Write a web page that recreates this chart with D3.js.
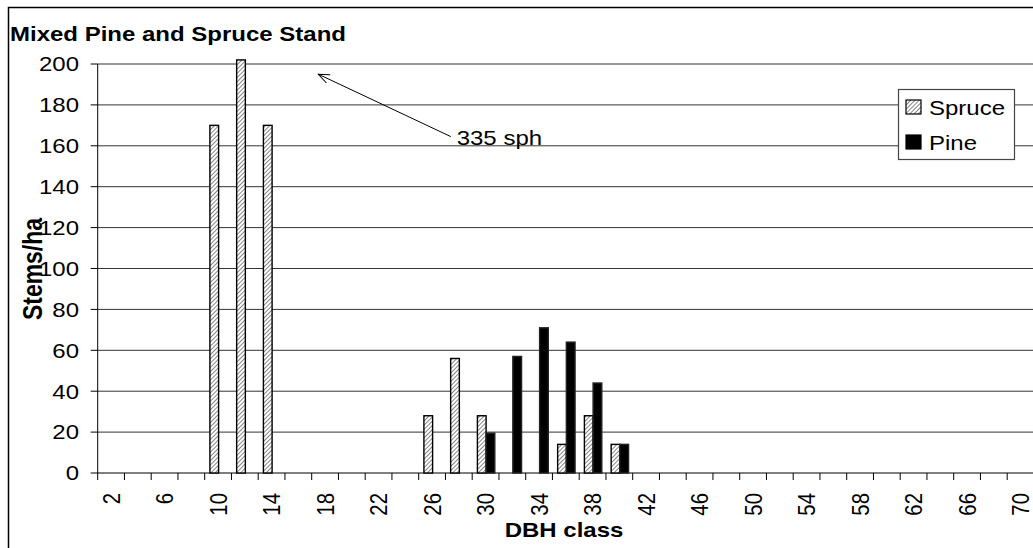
<!DOCTYPE html>
<meta charset="utf-8">
<style>
body { margin: 0; background: #fff; }
text { font-family: "Liberation Sans", Arial, sans-serif; fill: #000; }
.grid line { stroke: #333; stroke-width: 1; }
</style>
<body>
<svg width="1033" height="548"></svg>
<script src="https://d3js.org/d3.v7.min.js"></script>
<script>

// DBH classes (cm) and stems per hectare
var categories = [2,4,6,8,10,12,14,16,18,20,22,24,26,28,30,32,34,36,38,40,42,44,46,48,50,52,54,56,58,60,62,64,66,68,70];
var tickLabels = [2,6,10,14,18,22,26,30,34,38,42,46,50,54,58,62,66,70];
var spruce = [0,0,0,0,170,335,170,0,0,0,0,0,28,56,28,0,0,14,28,14,0,0,0,0,0,0,0,0,0,0,0,0,0,0,0];
var pine   = [0,0,0,0,0,0,0,0,0,0,0,0,0,0,19.5,57,71,64,44,14,0,0,0,0,0,0,0,0,0,0,0,0,0,0,0];
var seriesNames = ["Spruce", "Pine"];
var yTicks = [0,20,40,60,80,100,120,140,160,180,200];

var svg = d3.select("svg"),
    width = +svg.attr("width"),
    height = +svg.attr("height");

var squeeze = 0.85; // text in the picture is flattened a bit

var plotLeft = 97.7, plotTop = 64, plotBottom = 473, bandW = 26.75;
var plotRight = plotLeft + bandW * categories.length;

var x = d3.scaleBand()
	.domain(categories)
	.range([plotLeft, plotRight]);

var x1 = d3.scaleBand()
	.domain(seriesNames)
	.range([5.2, 22.6]);

// band units -> pixels, used for the annotation
var xIdx = d3.scaleLinear()
	.domain([0, categories.length])
	.range([plotLeft, plotRight]);

var y = d3.scaleLinear()
	.domain([0, 200])
	.range([plotBottom, plotTop]);

var defs = svg.append("defs");
var pat = defs.append("pattern")
	.attr("id", "hatch")
	.attr("patternUnits", "userSpaceOnUse")
	.attr("width", 3)
	.attr("height", 3)
	.attr("patternTransform", "rotate(45)");
pat.append("rect").attr("width", 3).attr("height", 3).attr("fill", "#fff");
pat.append("line")
	.attr("x1", 0).attr("y1", 0).attr("x2", 0).attr("y2", 3)
	.attr("stroke", "#666").attr("stroke-width", 1.6);

defs.append("marker")
	.attr("id", "arrow")
	.attr("viewBox", "-12 -6 14 12")
	.attr("markerWidth", 14)
	.attr("markerHeight", 12)
	.attr("markerUnits", "userSpaceOnUse")
	.attr("refX", 0).attr("refY", 0)
	.attr("orient", "auto")
	.append("path")
	.attr("d", "M-11,-4.5 L0,0 L-11,4.5")
	.attr("fill", "none")
	.attr("stroke", "#000")
	.attr("stroke-width", 1);

// outer chart border
svg.append("rect")
	.attr("x", 8.5).attr("y", 7.5)
	.attr("width", width + 20).attr("height", height + 20)
	.attr("fill", "none")
	.attr("stroke", "#000")
	.attr("stroke-width", 1.5);

function stext(sel, tx, ty, rot) {
	return sel.attr("transform", "translate(" + tx + "," + ty + ") scale(1," + squeeze + ")" + (rot ? " rotate(" + rot + ")" : ""));
}

// gridlines
svg.append("g").attr("class", "grid")
	.selectAll("line")
	.data(yTicks.filter(function(d){ return d > 0; }))
	.enter().append("line")
	.attr("x1", plotLeft).attr("x2", width)
	.attr("y1", y).attr("y2", y);

// y axis
var yAxis = svg.append("g");
yAxis.append("line")
	.attr("x1", plotLeft).attr("x2", plotLeft)
	.attr("y1", plotTop).attr("y2", plotBottom)
	.attr("stroke", "#000");
yAxis.selectAll(".tk")
	.data(yTicks)
	.enter().append("line")
	.attr("x1", plotLeft - 7).attr("x2", plotLeft)
	.attr("y1", y).attr("y2", y)
	.attr("stroke", "#000");
yAxis.selectAll("text")
	.data(yTicks)
	.enter().append("text")
	.each(function(d){ stext(d3.select(this), 79, y(d)); })
	.attr("text-anchor", "end")
	.attr("dy", "0.36em")
	.style("font-size", "24px")
	.text(function(d){ return d; });

// x axis
var xAxis = svg.append("g");
xAxis.append("line")
	.attr("x1", plotLeft).attr("x2", width)
	.attr("y1", plotBottom).attr("y2", plotBottom)
	.attr("stroke", "#000");
xAxis.selectAll(".tk")
	.data(categories)
	.enter().append("line")
	.attr("x1", function(d){ return x(d); })
	.attr("x2", function(d){ return x(d); })
	.attr("y1", plotBottom).attr("y2", plotBottom + 7)
	.attr("stroke", "#000");
xAxis.selectAll("text")
	.data(tickLabels)
	.enter().append("text")
	.each(function(d){ stext(d3.select(this), x(d) + x.bandwidth() / 2, 493, -90); })
	.attr("text-anchor", "end")
	.attr("dy", "0.36em")
	.style("font-size", "24px")
	.text(function(d){ return d; });

// bars
var yMax = y.domain()[1];
var rows = categories.map(function(c, i){
	return [{cat: c, s: "Spruce", v: spruce[i]}, {cat: c, s: "Pine", v: pine[i]}];
});
var bars = [].concat.apply([], rows).filter(function(d){ return d.v > 0; });

svg.append("g")
	.selectAll("rect")
	.data(bars)
	.enter().append("rect")
	.attr("x", function(d){ return x(d.cat) + x1(d.s); })
	.attr("width", x1.bandwidth())
	.attr("y", function(d){ return y(Math.min(d.v, yMax + 2)); })
	.attr("height", function(d){ return plotBottom - y(Math.min(d.v, yMax + 2)); })
	.attr("fill", function(d){ return d.s === "Spruce" ? "url(#hatch)" : "#000"; })
	.attr("stroke", function(d){ return d.s === "Spruce" ? "#000" : "#222"; })
	.attr("stroke-width", 1.4);

// annotation for the clipped 12 cm bar
var note = {label: "335 sph", x: 13.42, y: 160.5, fromX: 13.2, fromY: 164.5, tipX: 8.25, tipY: 195};
svg.append("line")
	.attr("x1", xIdx(note.fromX)).attr("y1", y(note.fromY))
	.attr("x2", xIdx(note.tipX)).attr("y2", y(note.tipY))
	.attr("stroke", "#000")
	.attr("stroke-width", 1)
	.attr("marker-end", "url(#arrow)");
stext(svg.append("text"), xIdx(note.x), y(note.y))
	.style("font-size", "24px")
	.text(note.label);

// legend
var legend = svg.append("g");
legend.append("rect")
	.attr("x", 898.5).attr("y", 89.5)
	.attr("width", 116).attr("height", 70)
	.attr("fill", "#fff")
	.attr("stroke", "#444")
	.attr("stroke-width", 1.2);
var li = legend.selectAll(".li")
	.data(seriesNames)
	.enter().append("g")
	.attr("transform", function(d, i){ return "translate(906," + (100 + i * 35) + ")"; });
li.append("rect")
	.attr("width", 15).attr("height", 14)
	.attr("fill", function(d){ return d === "Spruce" ? "url(#hatch)" : "#000"; })
	.attr("stroke", "#000")
	.attr("stroke-width", 1.2);
li.append("text")
	.each(function(){ stext(d3.select(this), 23, 15); })
	.style("font-size", "24px")
	.text(function(d){ return d; });

// titles
stext(svg.append("text"), 10, 40.5)
	.style("font-size", "24px")
	.style("font-weight", "bold")
	.text("Mixed Pine and Spruce Stand");

stext(svg.append("text"), 564, 537)
	.attr("text-anchor", "middle")
	.style("font-size", "24px")
	.style("font-weight", "bold")
	.text("DBH class");

stext(svg.append("text"), 41.5, 269, -90)
	.attr("text-anchor", "middle")
	.style("font-size", "27px")
	.style("font-weight", "bold")
	.text("Stems/ha");

</script>
</body>
</html>
